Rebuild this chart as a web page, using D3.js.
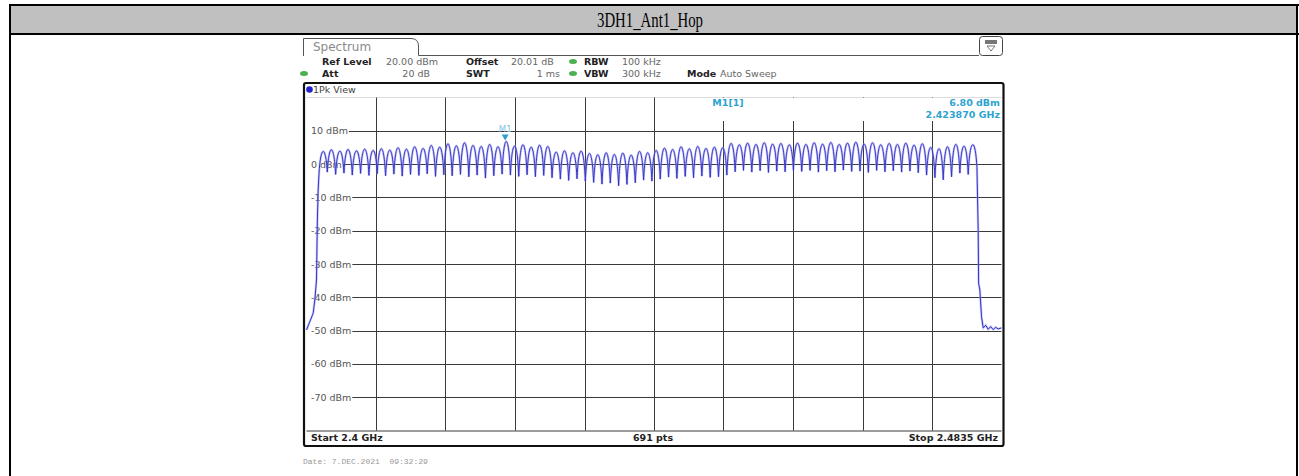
<!DOCTYPE html>
<html>
<head>
<meta charset="utf-8">
<script src="https://cdn.jsdelivr.net/npm/d3@7"></script>
<style>
  html, body { margin: 0; padding: 0; background: #fff; }
  svg { display: block; }
  .inst { font-family: "DejaVu Sans", Verdana, sans-serif; }
</style>
</head>
<body>
<svg id="chart" width="1299" height="476"></svg>
<script>
// ---- Sweep settings ----
const title = "3DH1_Ant1_Hop";
const startMHz = 2400.0;
const stopMHz = 2483.5;
const refLevel = 20;        // dBm, top of the grid
const dbPerDiv = 10;
const levelTicks = [10, 0, -10, -20, -30, -40, -50, -60, -70];
const levelLabels = ["10 dBm", "0 dBm", "-10 dBm", "-20 dBm", "-30 dBm", "-40 dBm", "-50 dBm", "-60 dBm", "-70 dBm"];

// ---- Trace: band skirts (MHz, dBm) ----
const lowSkirtMHz = [2400.0, 2400.4, 2400.8, 2401.0, 2401.2, 2401.3, 2401.4, 2401.5];
const lowSkirtDbm = [-49.8, -47.3, -44.8, -40.8, -34.8, -17.7, -7.8, -3.0];
const highSkirtMHz = [2480.55, 2480.7, 2480.75, 2480.9, 2481.1, 2481.3, 2481.6, 2481.9, 2482.2, 2482.5, 2482.8, 2483.1, 2483.5];
const highSkirtDbm = [-1.0, -20.0, -35.8, -37.8, -45.8, -49.2, -48.4, -49.6, -48.8, -49.7, -49.0, -49.5, -49.2];

// ---- Trace: hop channels 2402 ... 2480 MHz, 1 MHz apart ----
const firstChannelMHz = 2402;
const channelSpacingMHz = 1;
// level at each channel centre (dBm)
const channelPeakDbm = [
  3.8, 4.3, 3.9, 4.4, 4.0, 4.5, 4.1, 4.6, 4.2,
  4.9, 4.5, 5.2, 4.7, 5.6, 5.1, 6.1, 5.5,
  6.4, 5.6, 5.3, 5.9, 5.2, 6.8,
  5.4, 5.8, 5.1, 5.7, 5.3,
  3.6, 4.0, 3.4, 3.9,
  3.2, 2.8, 3.4, 2.9, 3.3, 2.7,
  3.8, 3.4, 4.1,
  4.8, 4.4, 5.2, 4.6, 5.3, 4.7, 5.1, 4.9,
  6.2, 5.8, 6.3, 5.9, 6.4, 6.0, 6.2, 5.8,
  6.3, 5.9, 6.4, 6.0, 6.5, 5.9, 6.3, 6.6,
  6.0, 6.4, 5.8, 6.2, 5.9, 6.3, 5.7, 6.1,
  5.0, 4.6, 5.2,
  5.9, 5.4, 5.8
];
// level at the dip between neighbouring channels (dBm)
const channelGapDbm = [
  -2.4, -3.1, -2.7, -3.3, -2.8, -3.4, -2.9, -3.5,
  -3.0, -3.6, -3.1, -3.4, -2.9, -3.7, -3.2, -3.5,
  -3.1, -3.8, -3.3, -4.2, -3.5, -3.0,
  -3.3, -3.7, -3.2, -3.8, -3.4, -4.1,
  -4.5, -4.9, -4.4, -5.1,
  -5.5, -6.0, -5.7, -6.5, -6.1, -5.6,
  -4.8, -5.1, -4.5,
  -3.9, -4.3, -3.7, -4.1, -3.6, -4.0, -3.8, -3.3,
  -2.3, -1.9, -2.4, -2.0, -2.5, -2.1, -2.3, -1.9,
  -2.2, -1.9, -2.4, -2.0, -2.3, -1.8, -2.2, -2.1, -2.5, -1.9, -2.3, -2.0, -2.4, -2.1, -2.6, -3.3,
  -4.1, -4.7, -3.8,
  -2.7, -3.1
];

// ---- Marker ----
const markerName = "M1";
const markerMHz = 2423.870;
const markerDbm = 6.80;

// ---- Layout ----
const svg = d3.select("#chart");
const plot = { left: 306.5, right: 1001.5, top: 97.5, bottom: 430.5 };
const frame = { left: 304, right: 1003.5, top: 83, bottom: 446 };

const x = d3.scaleLinear().domain([startMHz, stopMHz]).range([plot.left, plot.right]);
const y = d3.scaleLinear().domain([refLevel - 10 * dbPerDiv, refLevel]).range([plot.bottom, plot.top]);

// ---- Report table frame ----
svg.append("rect").attr("x", 10).attr("y", 5).attr("width", 1287).attr("height", 29).attr("fill", "#c0c0c0");
svg.append("line").attr("x1", 9).attr("x2", 1299).attr("y1", 5).attr("y2", 5).attr("stroke", "#000").attr("stroke-width", 2);
svg.append("line").attr("x1", 9).attr("x2", 1299).attr("y1", 34).attr("y2", 34).attr("stroke", "#000").attr("stroke-width", 2);
svg.append("line").attr("x1", 10).attr("x2", 10).attr("y1", 4).attr("y2", 476).attr("stroke", "#000").attr("stroke-width", 2);
svg.append("line").attr("x1", 1297).attr("x2", 1297).attr("y1", 4).attr("y2", 476).attr("stroke", "#000").attr("stroke-width", 2);
svg.append("text")
  .attr("transform", "translate(650,27) scale(0.74,1)")
  .attr("text-anchor", "middle")
  .attr("font-family", "'Liberation Serif', 'Times New Roman', serif")
  .attr("font-size", 20)
  .attr("fill", "#000")
  .text(title);

// ---- Instrument header ----
const hdr = svg.append("g").attr("class", "inst");
hdr.append("path")
  .attr("d", "M303.5,56 L303.5,38.5 L411,38.5 Q418.5,38.5 418.5,46 L418.5,55.5 L979,55.5")
  .attr("fill", "none").attr("stroke", "#555").attr("stroke-width", 1);
hdr.append("text").attr("x", 313).attr("y", 51).attr("font-size", 12).attr("fill", "#8a8a8a").text("Spectrum");

// settings icon box
hdr.append("rect").attr("x", 979.5).attr("y", 36.5).attr("width", 23).attr("height", 19).attr("rx", 3)
  .attr("fill", "#fff").attr("stroke", "#444");
hdr.append("rect").attr("x", 985).attr("y", 40).attr("width", 12).attr("height", 4).attr("fill", "#777");
hdr.append("path").attr("d", "M987,46 L995,46 L991,51 Z").attr("fill", "none").attr("stroke", "#777");

const rowA = 65, rowB = 77;
const info = [
  { t: "Ref Level", x: 322, y: rowA, b: true },
  { t: "20.00 dBm", x: 386, y: rowA },
  { t: "Offset", x: 466, y: rowA, b: true },
  { t: "20.01 dB", x: 511, y: rowA },
  { t: "RBW", x: 584, y: rowA, b: true },
  { t: "100 kHz", x: 622, y: rowA },
  { t: "Att", x: 322, y: rowB, b: true },
  { t: "20 dB", x: 430, y: rowB, a: "end" },
  { t: "SWT", x: 466, y: rowB, b: true },
  { t: "1 ms", x: 560, y: rowB, a: "end" },
  { t: "VBW", x: 584, y: rowB, b: true },
  { t: "300 kHz", x: 622, y: rowB },
  { t: "Mode", x: 687, y: rowB, b: true },
  { t: "Auto Sweep", x: 720, y: rowB }
];
hdr.selectAll("text.info").data(info).join("text")
  .attr("class", "info")
  .attr("x", d => d.x).attr("y", d => d.y)
  .attr("text-anchor", d => d.a || "start")
  .attr("font-size", 9.5)
  .attr("font-weight", d => d.b ? "bold" : "normal")
  .attr("fill", d => d.b ? "#222" : "#666")
  .text(d => d.t);
// coupling indicators
const dots = [{ x: 573, y: rowA - 3.5 }, { x: 573, y: rowB - 3.5 }, { x: 304, y: rowB - 3.5 }];
hdr.selectAll("ellipse.dot").data(dots).join("ellipse")
  .attr("class", "dot").attr("cx", d => d.x).attr("cy", d => d.y)
  .attr("rx", 4).attr("ry", 2.5).attr("fill", "#4caf50");

// ---- Diagram frame ----
const g = svg.append("g").attr("class", "inst");
g.append("rect").attr("x", frame.left).attr("y", frame.top)
  .attr("width", frame.right - frame.left).attr("height", frame.bottom - frame.top)
  .attr("rx", 2).attr("fill", "#fff").attr("stroke", "#111").attr("stroke-width", 2.2);
g.append("circle").attr("cx", 309.5).attr("cy", 89.5).attr("r", 3.3).attr("fill", "#2222cc");
g.append("text").attr("x", 313).attr("y", 93).attr("font-size", 9.5).attr("fill", "#444").text("1Pk View");
g.append("line").attr("x1", plot.left).attr("x2", plot.right).attr("y1", plot.top).attr("y2", plot.top)
  .attr("stroke", "#ddd").attr("stroke-width", 1);

// vertical divisions
const freqDivs = d3.range(1, 10).map(i => startMHz + i * (stopMHz - startMHz) / 10);
g.selectAll("line.vgrid").data(freqDivs).join("line")
  .attr("class", "vgrid")
  .attr("x1", d => Math.round(x(d)) + 0.5).attr("x2", d => Math.round(x(d)) + 0.5)
  .attr("y1", plot.top).attr("y2", plot.bottom)
  .attr("stroke", "#3a3a3a").attr("stroke-width", 1);

// marker readout area sits over the grid
g.append("rect").attr("x", 690).attr("y", plot.top + 0.5).attr("width", plot.right - 690).attr("height", 23)
  .attr("fill", "#fff");

// level labels and horizontal divisions
const lbl = g.selectAll("g.level").data(levelTicks).join("g").attr("class", "level");
lbl.append("text")
  .attr("x", 311).attr("y", d => y(d) + 3.5)
  .attr("font-size", 9.5).attr("fill", "#555")
  .text((d, i) => levelLabels[i]);
lbl.each(function (d) {
  const w = d3.select(this).select("text").node().getComputedTextLength();
  d3.select(this).append("line")
    .attr("x1", 311 + w + 1).attr("x2", plot.right)
    .attr("y1", Math.round(y(d)) + 0.5).attr("y2", Math.round(y(d)) + 0.5)
    .attr("stroke", "#3a3a3a").attr("stroke-width", 1);
});
g.append("line").attr("x1", plot.left).attr("x2", plot.right)
  .attr("y1", plot.bottom + 0.5).attr("y2", plot.bottom + 0.5)
  .attr("stroke", "#3a3a3a").attr("stroke-width", 1);

// ---- Trace ----
// Skirts are polylines; each hop channel is an arch from one dip to the next
// whose apex sits at the channel's peak level.
function tracePath() {
  const p = d3.path();
  lowSkirtMHz.forEach((f, i) => {
    if (i === 0) p.moveTo(x(f), y(lowSkirtDbm[i]));
    else p.lineTo(x(f), y(lowSkirtDbm[i]));
  });
  let f0 = lowSkirtMHz[lowSkirtMHz.length - 1];
  let v0 = lowSkirtDbm[lowSkirtDbm.length - 1];
  channelPeakDbm.forEach((peak, k) => {
    const fc = firstChannelMHz + k * channelSpacingMHz;
    const f1 = k < channelGapDbm.length ? fc + channelSpacingMHz / 2 : highSkirtMHz[0];
    const v1 = k < channelGapDbm.length ? channelGapDbm[k] : highSkirtDbm[0];
    const ctrl = (peak - (v0 + v1) / 8) / 0.75;
    const dx = x(f1) - x(f0);
    p.bezierCurveTo(x(f0) + 0.2 * dx, y(ctrl), x(f1) - 0.2 * dx, y(ctrl), x(f1), y(v1));
    f0 = f1; v0 = v1;
  });
  highSkirtMHz.forEach((f, i) => { if (i > 0) p.lineTo(x(f), y(highSkirtDbm[i])); });
  return p.toString();
}
const traceD = tracePath();
svg.append("clipPath").attr("id", "plotclip").append("rect")
  .attr("x", plot.left - 1).attr("y", plot.top).attr("width", plot.right - plot.left + 1).attr("height", plot.bottom - plot.top);
g.append("path").attr("d", traceD)
  .attr("fill", "none").attr("stroke", "#a0a0ee").attr("stroke-width", 2.4).attr("opacity", 0.55)
  .attr("clip-path", "url(#plotclip)");
g.append("path").attr("d", traceD)
  .attr("fill", "none").attr("stroke", "#3434c8").attr("stroke-width", 1)
  .attr("clip-path", "url(#plotclip)");

// ---- Marker ----
const mx = x(markerMHz), my = y(markerDbm);
g.append("path").attr("d", `M${mx - 3.5},${my - 7} L${mx + 3.5},${my - 7} L${mx},${my - 1} Z`).attr("fill", "#2f9fd0");
g.append("text").attr("x", mx).attr("y", my - 9).attr("text-anchor", "middle")
  .attr("font-size", 8.5).attr("fill", "#7fc3e0").text(markerName);
g.append("text").attr("x", 728).attr("y", 106).attr("text-anchor", "middle")
  .attr("font-size", 9.5).attr("font-weight", "bold").attr("fill", "#2ea3cf").text(markerName + "[1]");
g.append("text").attr("x", 1000).attr("y", 106).attr("text-anchor", "end")
  .attr("font-size", 9.5).attr("font-weight", "bold").attr("fill", "#2ea3cf").text(markerDbm.toFixed(2) + " dBm");
g.append("text").attr("x", 1000).attr("y", 118).attr("text-anchor", "end")
  .attr("font-size", 9.5).attr("font-weight", "bold").attr("fill", "#2ea3cf")
  .text((markerMHz / 1000).toFixed(6) + " GHz");

// ---- Footer ----
g.append("text").attr("x", 311).attr("y", 441).attr("font-size", 9.5).attr("font-weight", "bold").attr("fill", "#222")
  .text("Start " + (startMHz / 1000) + " GHz");
g.append("text").attr("x", 653).attr("y", 441).attr("text-anchor", "middle").attr("font-size", 9.5).attr("font-weight", "bold").attr("fill", "#222")
  .text("691 pts");
g.append("text").attr("x", 998).attr("y", 441).attr("text-anchor", "end").attr("font-size", 9.5).attr("font-weight", "bold").attr("fill", "#222")
  .text("Stop " + (stopMHz / 1000) + " GHz");

svg.append("text").attr("x", 303).attr("y", 464)
  .attr("font-family", "'Liberation Mono', 'DejaVu Sans Mono', monospace")
  .attr("font-size", 8).attr("fill", "#999")
  .attr("xml:space", "preserve")
  .text("Date: 7.DEC.2021  09:32:29");
</script>
</body>
</html>
